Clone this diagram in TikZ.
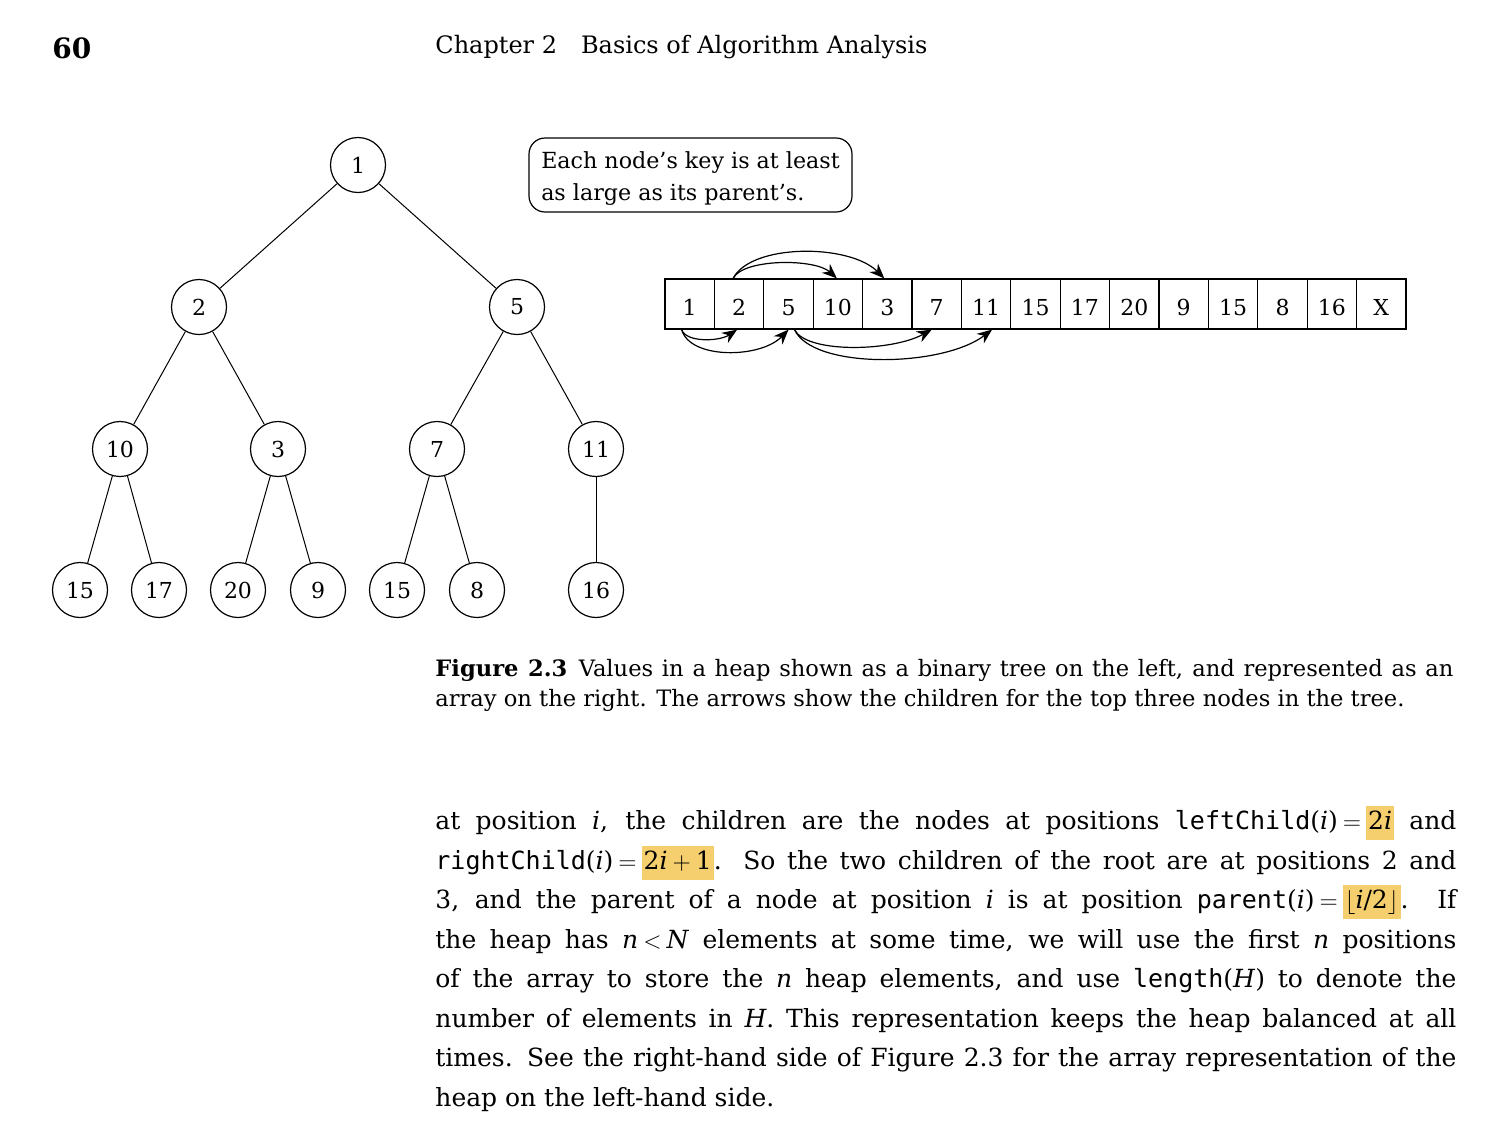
\documentclass[tikz,border=0pt]{standalone}
\usepackage{fontspec}
\setmainfont{DejaVu Serif}
\setmonofont{DejaVu Sans Mono}
\usetikzlibrary{arrows.meta}
\definecolor{hl}{RGB}{245,206,110}
\newcommand{\hlbox}[1]{{\setlength{\fboxsep}{1pt}\colorbox{hl}{\strut #1}}}
\newcommand{\mi}[1]{\textit{#1}}
\newcommand{\eqs}{\hspace{0.2em}$=$\hspace{0.2em}}
\begin{document}
\begin{tikzpicture}[x=0.5pt,y=-0.5pt,
  tn/.style={circle,draw,line width=0.6pt,minimum size=27.5pt,inner sep=0pt,font=\fontsize{11}{13}\selectfont},
  cell/.style={draw,line width=0.6pt,minimum width=24.7pt,minimum height=25pt,inner sep=0pt,text height=11pt,text depth=0pt,font=\fontsize{11}{13}\selectfont},
  edge/.style={line width=0.5pt},
  arr/.style={-{Stealth[length=7.5pt,width=6pt]},line width=0.6pt},
  bodyline/.style={anchor=base west,inner sep=0pt,font=\fontsize{12.5}{15}\selectfont},
  capline/.style={anchor=base west,inner sep=0pt,font=\fontsize{11.3}{13}\selectfont}]
\useasboundingbox (0,0) rectangle (1502,1142);
% header
\node[anchor=base west,inner sep=0pt,font=\bfseries\fontsize{14}{16}\selectfont] (pg) at (52,58) {60};
\node[anchor=base west,inner sep=0pt,font=\fontsize{12}{14}\selectfont] (hd) at (435,53) {Chapter 2\hspace{1em}Basics of Algorithm Analysis};
% tree
\node[tn] (t1) at (358,165) {1};
\node[tn] (t2) at (199,307) {2};
\node[tn] (t3) at (517,307) {5};
\node[tn] (t4) at (120,449) {10};
\node[tn] (t5) at (278,449) {3};
\node[tn] (t6) at (437,449) {7};
\node[tn] (t7) at (596,449) {11};
\node[tn] (t8) at (80,590) {15};
\node[tn] (t9) at (159,590) {17};
\node[tn] (t10) at (238,590) {20};
\node[tn] (t11) at (318,590) {9};
\node[tn] (t12) at (397,590) {15};
\node[tn] (t13) at (477,590) {8};
\node[tn] (t14) at (596,590) {16};
\draw[edge] (t1) -- (t2);
\draw[edge] (t1) -- (t3);
\draw[edge] (t2) -- (t4);
\draw[edge] (t2) -- (t5);
\draw[edge] (t3) -- (t6);
\draw[edge] (t3) -- (t7);
\draw[edge] (t4) -- (t8);
\draw[edge] (t4) -- (t9);
\draw[edge] (t5) -- (t10);
\draw[edge] (t5) -- (t11);
\draw[edge] (t6) -- (t12);
\draw[edge] (t6) -- (t13);
\draw[edge] (t7) -- (t14);
% callout
\node[draw,line width=0.6pt,rounded corners=8pt,minimum width=161.5pt,minimum height=37pt,align=left,inner sep=0pt,font=\fontsize{11.1}{16}\selectfont] (note) at (690.5,175) {\rule{0pt}{12.4pt}Each node’s key is at least\\as large as its parent’s.};
% array
\foreach \v [count=\k] in {1,2,5,10,3,7,11,15,17,20,9,15,8,16,X}
  \node[cell] (c\k) at ({665+49.4*(\k-0.5)},304) {\v};
% arrows
\draw[arr] ([xshift=-3pt]c2.north) .. controls +(10,-20) and +(-22,-20) .. ([xshift=-0.5pt]c4.north);
\draw[arr] ([xshift=-3pt]c2.north) .. controls +(18,-35) and +(-35,-35) .. ([xshift=-1.5pt]c5.north);
\draw[arr] ([xshift=-4pt]c1.south) .. controls +(4,13) and +(-18,12) .. ([xshift=-1pt]c2.south);
\draw[arr] ([xshift=-4pt]c1.south) .. controls +(8,30) and +(-28,29) .. (c3.south);
\draw[arr] ([xshift=3pt]c3.south) .. controls +(12,24) and +(-40,22) .. ([xshift=-2.5pt]c6.south);
\draw[arr] ([xshift=3pt]c3.south) .. controls +(18,40) and +(-50,38) .. ([xshift=3pt]c7.south);
% caption
\node[capline] (cap1) at (435,676) {\makebox[509pt][s]{\textbf{Figure 2.3}\hspace{0.5em}Values in a heap shown as a binary tree on the left, and represented as an}};
\node[capline] (cap2) at (435,706) {array on the right. The arrows show the children for the top three nodes in the tree.};
% body
\node[bodyline] (b1) at (435,829) {\makebox[510.5pt][s]{at position \mi{i}, the children are the nodes at positions \texttt{leftChild}(\mi{i})\eqs\hlbox{2\mi{i}} and}};
\node[bodyline] (b2) at (435,869) {\makebox[510.5pt][s]{\texttt{rightChild}(\mi{i})\eqs\hlbox{2\mi{i}\hspace{0.2em}$+$\hspace{0.2em}1}. So the two children of the root are at positions 2 and}};
\node[bodyline] (b3) at (435,908) {\makebox[510.5pt][s]{3, and the parent of a node at position \mi{i} is at position \texttt{parent}(\mi{i})\eqs\hlbox{$\lfloor$\mi{i}/2$\rfloor$}. If}};
\node[bodyline] (b4) at (435,948) {\makebox[510.5pt][s]{the heap has \mi{n}\hspace{0.2em}$<$\hspace{0.2em}\mi{N} elements at some time, we will use the first \mi{n} positions}};
\node[bodyline] (b5) at (435,987) {\makebox[510.5pt][s]{of the array to store the \mi{n} heap elements, and use \texttt{length}(\mi{H}) to denote the}};
\node[bodyline] (b6) at (435,1027) {\makebox[510.5pt][s]{number of elements in \mi{H}. This representation keeps the heap balanced at all}};
\node[bodyline] (b7) at (435,1066) {\makebox[510.5pt][s]{times. See the right-hand side of Figure 2.3 for the array representation of the}};
\node[bodyline] (b8) at (435,1106) {heap on the left-hand side.};
\end{tikzpicture}
\end{document}
